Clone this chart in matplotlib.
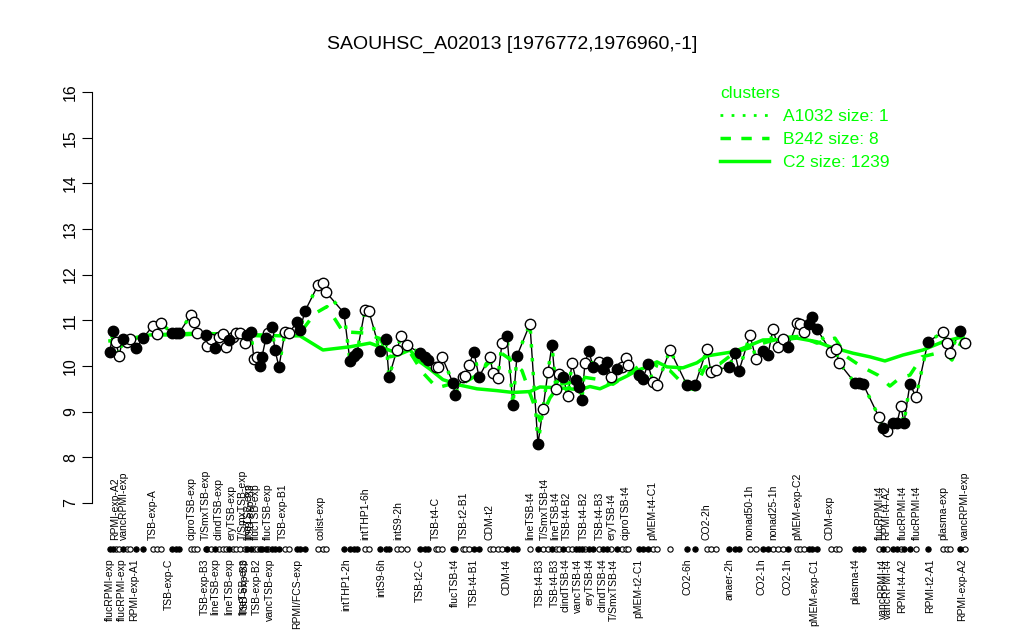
import matplotlib
matplotlib.use("Agg")
import matplotlib.pyplot as plt
from matplotlib.lines import Line2D

plt.rcParams['font.family'] = ['Liberation Sans', 'DejaVu Sans']

# condition positions along the x axis, expression values, filled marker flag
pos = [2.0, 2.6, 3.2, 3.8, 4.6, 5.4, 6.0, 7.2, 8.6, 10.6, 11.4, 12.2, 14.4, 15.2, 15.8,
       18.2, 18.8, 19.4, 21.2, 21.4, 22.2, 23.0, 23.8, 24.6, 25.2, 25.8, 26.6, 27.2, 28.0,
       29.0, 29.4, 30.2, 30.8, 31.4, 32.0, 32.4, 33.2, 33.6, 34.4, 35.0, 35.8, 37.0, 37.8,
       39.4, 40.0, 41.0, 43.6, 44.6, 45.2, 48.8, 50.0, 50.8, 51.4, 53.0, 53.8, 56.0, 57.2,
       57.8, 59.4, 60.2, 61.4, 64.0, 65.0, 65.6, 67.2, 67.6, 68.4, 70.6, 71.0, 72.6, 73.0,
       73.8, 74.8, 75.8, 78.0, 78.6, 79.6, 80.4, 81.4, 82.6, 83.4, 86.0, 87.6, 88.6, 89.6,
       90.4, 91.2, 91.8, 92.6, 93.6, 94.4, 95.2, 95.8, 96.4, 97.0, 97.8, 98.6, 99.8, 100.6,
       101.4, 102.2, 103.4, 104.4, 105.2, 105.6, 107.8, 108.6, 109.6, 110.6, 111.4, 114.0,
       117.4, 119.0, 121.4, 122.2, 123.2, 125.8, 127.0, 127.8, 130.0, 131.2, 132.6, 133.6,
       134.6, 135.6, 136.6, 137.6, 139.4, 140.0, 140.8, 141.8, 142.4, 143.4, 146.2, 147.2,
       147.8, 151.0, 151.8, 152.6, 155.8, 156.6, 157.4, 158.6, 159.4, 160.2, 160.8, 162.0,
       163.2, 165.6, 168.6, 169.4, 170.0, 172.0, 173.0]
expr = [10.31, 10.77, 10.53, 10.22, 10.59, 10.53, 10.59, 10.39, 10.61, 10.88, 10.70, 10.94,
        10.72, 10.72, 10.72, 11.12, 10.96, 10.72, 10.68, 10.44, 10.59, 10.39, 10.64, 10.70,
        10.42, 10.57, 10.64, 10.72, 10.72, 10.50, 10.68, 10.74, 10.15, 10.20, 10.00, 10.20,
        10.61, 10.72, 10.85, 10.35, 9.98, 10.74, 10.72, 10.96, 10.79, 11.20, 11.77, 11.82,
        11.62, 11.16, 10.11, 10.22, 10.28, 11.23, 11.20, 10.33, 10.59, 9.76, 10.35, 10.66,
        10.46, 10.28, 10.20, 10.13, 9.98, 9.98, 10.20, 9.63, 9.37, 9.76, 9.78, 10.02, 10.31,
        9.76, 10.20, 9.85, 9.74, 10.50, 10.66, 9.15, 10.22, 10.92, 8.29, 9.06, 9.87, 10.46,
        9.50, 9.83, 9.76, 9.34, 10.07, 9.70, 9.54, 9.26, 10.07, 10.33, 9.98, 10.09, 9.93,
        10.09, 9.76, 9.93, 9.98, 10.17, 10.02, 9.80, 9.72, 10.04, 9.65, 9.58, 10.35, 9.58,
        9.58, 10.37, 9.87, 9.91, 9.98, 10.28, 9.89, 10.68, 10.15, 10.33, 10.24, 10.81, 10.42,
        10.59, 10.42, 10.94, 10.92, 10.74, 10.92, 11.07, 10.81, 10.31, 10.37, 10.07, 9.63,
        9.62, 9.61, 8.88, 8.64, 8.58, 8.75, 8.75, 9.12, 8.75, 9.61, 9.32, 10.53, 10.74, 10.50,
        10.28, 10.77, 10.50]
filled = [1, 1, 0, 0, 1, 0, 0, 1, 1, 0, 0, 0, 1, 1, 1, 0, 0, 0, 1, 0, 0, 1, 0, 0, 0, 1, 0,
          0, 0, 0, 1, 1, 0, 0, 1, 1, 1, 0, 1, 1, 1, 0, 0, 1, 1, 1, 0, 0, 0, 1, 1, 1, 1, 0, 0,
          1, 1, 1, 0, 0, 0, 1, 1, 1, 0, 0, 0, 1, 1, 0, 0, 0, 1, 1, 0, 0, 0, 0, 1, 1, 1, 0, 1,
          0, 0, 1, 0, 0, 1, 0, 0, 1, 1, 1, 0, 1, 1, 0, 1, 1, 0, 1, 0, 0, 0, 1, 1, 1, 0, 0, 0,
          1, 1, 0, 0, 0, 1, 1, 1, 0, 0, 1, 1, 0, 0, 0, 1, 0, 0, 0, 1, 1, 1, 0, 0, 0, 1, 1, 1,
          0, 1, 0, 1, 1, 0, 1, 1, 0, 1, 0, 0, 0, 1, 0]

# cluster mean profiles
c2_pos = [2, 6, 10, 16, 20, 26, 32, 36, 40, 44.6, 50, 54, 56, 60, 62, 64, 66, 68.6, 72,
          75.4, 79.4, 82.6, 86, 88, 92, 96, 98, 100, 102.6, 105.4, 107.4, 109.4, 111.4,
          113.4, 116.6, 119.4, 121.4, 126.6, 128.6, 132.6, 136.6, 139.4, 143.4, 146, 150.6,
          154, 157, 160.6, 164.6, 168.6, 172.6]
c2_val = [10.55, 10.58, 10.68, 10.68, 10.70, 10.68, 10.68, 10.66, 10.66, 10.35, 10.42,
          10.50, 10.42, 10.26, 10.35, 10.09, 9.93, 9.70, 9.58, 9.50, 9.46, 9.42, 9.44, 9.54,
          9.52, 9.48, 9.55, 9.50, 9.63, 9.78, 9.90, 9.98, 10.09, 9.98, 9.96, 10.07, 10.22,
          10.31, 10.39, 10.57, 10.58, 10.61, 10.53, 10.42, 10.28, 10.20, 10.11, 10.24, 10.35,
          10.53, 10.64]
b242_pos = [2, 10, 20, 32, 40, 43, 45.4, 48.6, 53, 56, 58, 62, 64.6, 67.4, 70, 72, 75.4,
            78, 80, 82, 84.4, 86, 88, 90, 92, 95, 97, 100, 102.6, 105.4, 109.4, 111.4, 114,
            117.4, 119, 121, 124, 127, 130, 132.6, 136.6, 140, 143.4, 147, 149.4, 152.4,
            155.6, 158, 160, 162, 164.4, 167.4, 169.4, 170.4, 172.6]
b242_val = [10.52, 10.68, 10.72, 10.66, 10.72, 11.15, 11.30, 10.75, 10.72, 10.60, 10.20,
            10.30, 9.85, 9.52, 9.60, 9.58, 9.80, 10.10, 10.30, 10.15, 9.90, 9.40, 8.80, 9.30,
            9.60, 9.65, 9.75, 9.70, 9.60, 9.80, 10.13, 10.00, 9.90, 9.52, 9.48, 9.98, 10.05,
            10.30, 10.40, 10.50, 10.62, 10.65, 10.50, 10.61, 10.20, 9.98, 9.80, 9.56, 9.74,
            9.80, 10.20, 10.28, 10.24, 10.13, 10.60]

top_pos = [3.0, 4.8, 10.6, 18.4, 21.2, 23.8, 26.4, 28.6, 29.6, 30.2, 31.2, 33.6, 36.6,
           44.2, 53.0, 59.6, 67.2, 72.8, 78.0, 86.0, 89.0, 91.0, 93.4, 96.8, 100.0, 102.4,
           105.2, 110.4, 121.4, 129.8, 134.6, 139.4, 146.0, 156.0, 157.2, 160.6, 163.4,
           168.6, 173.0]
top_lab = ["RPMI-exp-A2", "vancRPMI-exp", "TSB-exp-A", "ciproTSB-exp", "T/SmxTSB-exp",
           "clindTSB-exp", "eryTSB-exp", "T/SmxTSB-exp", "lineTSB-exp", "TSB-exp-B3",
           "flucTSB-exp", "flucTSB-exp", "TSB-exp-B1", "colist-exp", "intTHP1-6h", "intS9-2h",
           "TSB-t4-C", "TSB-t2-B1", "CDM-t2", "lineTSB-t4", "T/SmxTSB-t4", "lineTSB-t4",
           "TSB-t4-B2", "TSB-t4-B2", "TSB-t4-B3", "eryTSB-t4", "ciproTSB-t4", "pMEM-t4-C1",
           "CO2-2h", "nonad50-1h", "nonad25-1h", "pMEM-exp-C2", "CDM-exp", "flucRPMI-t4",
           "RPMI-t4-A2", "flucRPMI-t4", "flucRPMI-t4", "plasma-exp", "vancRPMI-exp"]
bot_pos = [2.0, 4.4, 6.8, 13.8, 21.0, 23.0, 25.8, 28.6, 29.0, 31.4, 34.0, 39.4, 49.2, 56.2,
           64.0, 71.0, 74.8, 81.4, 88.0, 91.0, 93.2, 95.6, 98.0, 100.6, 102.8, 107.6, 117.6,
           126.0, 132.4, 137.6, 142.8, 151.0, 156.6, 157.6, 160.4, 166.0, 172.4]
bot_lab = ["flucRPMI-exp", "flucRPMI-exp", "RPMI-exp-A1", "TSB-exp-C", "TSB-exp-B3",
           "lineTSB-exp", "lineTSB-exp", "lineTSB-exp", "TSB-exp-B3", "TSB-exp-B2",
           "vancTSB-exp", "RPMI/FCS-exp", "intTHP1-2h", "intS9-6h", "TSB-t2-C", "flucTSB-t4",
           "TSB-t4-B1", "CDM-t4", "TSB-t4-B3", "TSB-t4-B3", "clindTSB-t4", "vancTSB-t4",
           "eryTSB-t4", "clindTSB-t4", "T/SmxTSB-t4", "pMEM-t2-C1", "CO2-6h", "anaer-2h",
           "CO2-1h", "CO2-1h", "pMEM-exp-C1", "plasma-t4", "vancRPMI-t4", "vancRPMI-t4",
           "RPMI-t4-A2", "RPMI-t2-A1", "RPMI-exp-A2"]

green = "#00FF00"

fig = plt.figure(figsize=(10.24, 6.4), dpi=100)
ax = fig.add_axes([0.0898, 0.1884, 0.8623, 0.6936])

ax.plot(pos, expr, color="black", lw=1, zorder=2)
ax.plot(c2_pos, c2_val, color=green, lw=2.5, zorder=3)
ax.plot(b242_pos, b242_val, color=green, lw=2.5, ls=(0, (3.5, 3.5)), zorder=3)
ax.plot(pos, expr, color=green, lw=2.5, ls=(0, (1, 3)), zorder=3)

fx = [p for p, f in zip(pos, filled) if f]
fy = [v for v, f in zip(expr, filled) if f]
ox = [p for p, f in zip(pos, filled) if not f]
oy = [v for v, f in zip(expr, filled) if not f]
ax.plot(ox, oy, ls="none", marker="o", ms=7.5, mfc="white", mec="black", mew=1, zorder=4)
ax.plot(fx, fy, ls="none", marker="o", ms=7.5, mfc="black", mec="black", mew=1, zorder=4)

# strip of condition markers under the plot
ax.plot(ox, [5.99] * len(ox), ls="none", marker="o", ms=3.8, mfc="white", mec="black",
        mew=0.8, clip_on=False)
ax.plot(fx, [5.99] * len(fx), ls="none", marker="o", ms=3.8, mfc="black", mec="black",
        mew=0.8, clip_on=False)

for p, t in zip(top_pos, top_lab):
    ax.text(p, 6.19, t, rotation=90, ha="center", va="bottom", fontsize=7.5)
for p, t in zip(bot_pos, bot_lab):
    ax.text(p, 5.78, t, rotation=90, ha="center", va="top", fontsize=7.5)

ax.set_xlim(-1.6, 175)
ax.set_ylim(6.64, 16.36)
for s in ["top", "right", "bottom"]:
    ax.spines[s].set_visible(False)
ax.spines["left"].set_bounds(7, 16)
ax.set_xticks([])
ax.set_yticks(range(7, 17))
ax.tick_params(axis="y", length=7, labelsize=11.5, pad=3)
for lab in ax.get_yticklabels():
    lab.set_rotation(90)
    lab.set_va("center")

fig.text(0.5, 0.93, "SAOUHSC_A02013 [1976772,1976960,-1]", ha="center", va="center",
         fontsize=14)

handles = [Line2D([], [], color=green, lw=2, ls=(0, (1, 3))),
           Line2D([], [], color=green, lw=2.5, ls=(0, (3, 3))),
           Line2D([], [], color=green, lw=2.5)]
leg = fig.legend(handles, ["A1032 size: 1", "B242 size: 8", "C2 size: 1239"],
                 title="clusters", loc="upper left", bbox_to_anchor=(0.688, 0.89),
                 frameon=False, fontsize=12.5, title_fontsize=12.5, labelcolor=green,
                 handlelength=2.8, handletextpad=0.8, labelspacing=0.45, alignment="left")
leg.get_title().set_color(green)

fig.savefig("out.png", dpi=100)
